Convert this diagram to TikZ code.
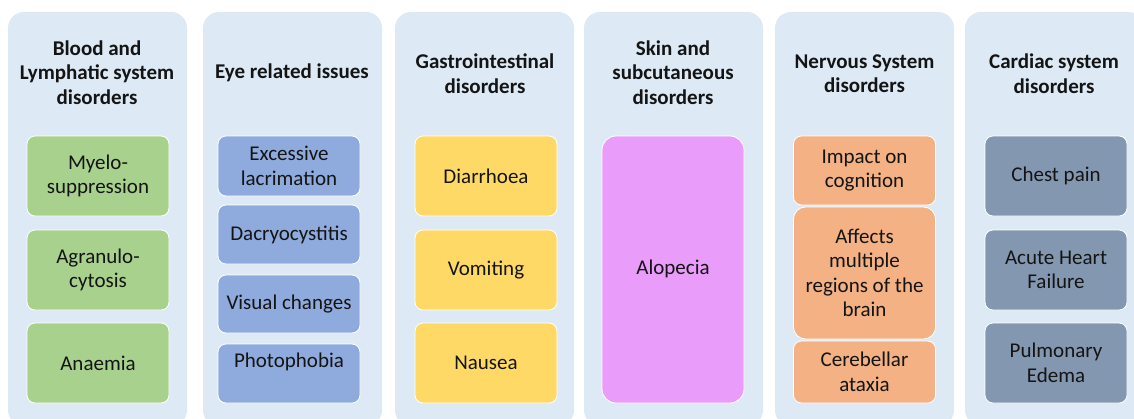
\documentclass[tikz,border=0pt]{standalone}
\usepackage{fontspec}
\setmainfont{Carlito}
\definecolor{panelbg}{HTML}{DDEAF6}
\definecolor{cgreen}{HTML}{A9D18E}
\definecolor{cblue}{HTML}{8FAADC}
\definecolor{cyellow}{HTML}{FFD966}
\definecolor{cpink}{HTML}{EA9CFB}
\definecolor{corange}{HTML}{F4B183}
\definecolor{cslate}{HTML}{8497B0}
\definecolor{ink}{HTML}{141414}
\tikzset{
  x=1pt, y=1pt,
  panel/.style={fill=panelbg, draw=none, rounded corners=16pt},
  cell/.style={draw=white, line width=0.8pt, rounded corners=8pt, minimum width=142pt,
    inner sep=0pt, align=center, text=ink, font=\fontsize{21}{24.5}\selectfont},
  title/.style={align=center, text=ink, inner sep=0pt, font=\bfseries\fontsize{21}{24.5}\selectfont},
  txt/.style={align=center, text=ink, inner sep=0pt, font=\fontsize{21}{24.5}\selectfont},
}
\begin{document}
\begin{tikzpicture}
\useasboundingbox (0,0) rectangle (1134,-418);
\clip (0,0) rectangle (1134,-418);
\fill[white] (0,0) rectangle (1134,-418);
% panels
\path[panel] (8,-12) rectangle (187,-426);
\path[panel] (203,-12) rectangle (382,-426);
\path[panel] (395,-12) rectangle (574,-426);
\path[panel] (584,-12) rectangle (763,-426);
\path[panel] (775,-12) rectangle (954,-426);
\path[panel] (965,-12) rectangle (1144,-426);
% titles
\node[title] (t1) at (97,-72.5) {Blood and\\Lymphatic system\\disorders};
\node[title] (t2) at (292,-72.5) {Eye related issues};
\node[title] (t3) at (485,-73.5) {Gastrointestinal\\disorders};
\node[title] (t4) at (673,-72.5) {Skin and\\subcutaneous\\disorders};
\node[title] (t5) at (864.5,-73.5) {Nervous System\\disorders};
\node[title] (t6) at (1054,-73.5) {Cardiac system\\disorders};
% column 1
\node[cell, fill=cgreen, minimum height=80pt] (b1) at (98,-176) {Myelo-\\suppression};
\node[cell, fill=cgreen, minimum height=80pt] (b2) at (98,-270) {Agranulo-\\cytosis};
\node[cell, fill=cgreen, minimum height=80pt] (b3) at (98,-363) {Anaemia};
% column 2
\node[cell, fill=cblue, minimum height=60pt] (e1) at (289,-166) {Excessive\\lacrimation};
\node[cell, fill=cblue, minimum height=59pt] (e2) at (289,-234.5) {Dacryocystitis};
\node[cell, fill=cblue, minimum height=58pt] (e3) at (289,-304) {Visual changes};
\node[cell, fill=cblue, minimum height=59pt] (e4) at (289,-373.5) {};
\node[txt] (e4t) at ([yshift=11.5pt]e4.center) {Photophobia};
% column 3
\node[cell, fill=cyellow, minimum height=80pt] (g1) at (486,-176) {Diarrhoea};
\node[cell, fill=cyellow, minimum height=80pt] (g2) at (486,-270) {Vomiting};
\node[cell, fill=cyellow, minimum height=80pt] (g3) at (486,-363) {Nausea};
% column 4
\node[cell, fill=cpink, minimum height=267pt, rounded corners=14pt] (s1) at (673,-269.5) {};
\node[txt] (s1t) at (673,-269) {Alopecia};
% column 5
\node[cell, fill=corange, minimum height=69pt] (n1) at (864.5,-170.5) {Impact on\\cognition};
\node[cell, fill=corange, minimum height=132pt, rounded corners=12pt] (n2) at (864.5,-273) {Affects\\multiple\\regions of the\\brain};
\node[cell, fill=corange, minimum height=62pt] (n3) at (864.5,-372) {Cerebellar\\ataxia};
% column 6
\node[cell, fill=cslate, minimum height=80pt] (c1) at (1056,-176) {Chest pain};
\node[cell, fill=cslate, minimum height=80pt] (c2) at (1056,-270) {Acute Heart\\Failure};
\node[cell, fill=cslate, minimum height=80pt] (c3) at (1056,-363) {Pulmonary\\Edema};
\end{tikzpicture}
\end{document}
